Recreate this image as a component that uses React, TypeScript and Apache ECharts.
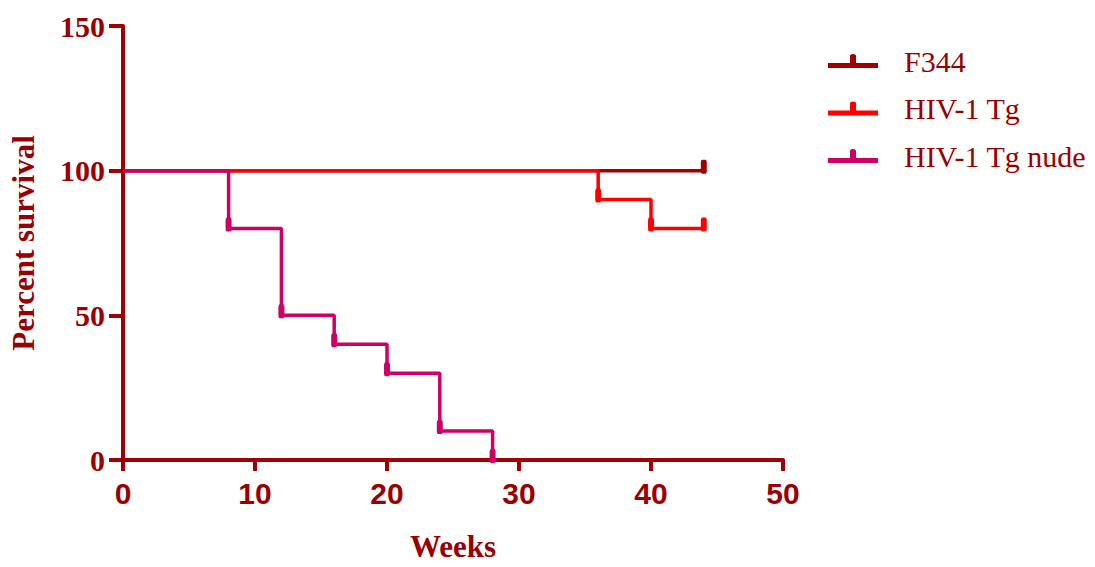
import React, { useEffect, useRef } from "react";
import * as echarts from "echarts";

const seriesNames = ["F344", "HIV-1 Tg", "HIV-1 Tg nude"];
const f344Weeks = [0, 44];
const f344Survival = [100, 100];
const tgWeeks = [0, 36, 40, 44];
const tgSurvival = [100, 90, 80, 80];
const nudeWeeks = [0, 8, 12, 16, 20, 24, 28];
const nudeSurvival = [100, 80, 50, 40, 30, 10, 0];
const seriesColors = ["#A00000", "#FF0000", "#CC0066"];

const axisColor = "#A00000";
const textColor = "#9A0000";

const legendIcon =
  "path://M0,9 L50,9 L50,14 L0,14 Z M22,2 Q22,0 25,0 Q28,0 28,2 L28,14 L22,14 Z";

function buildData(weeks: number[], vals: number[]) {
  return weeks.map((w, i) =>
    i === 0 ? { value: [w, vals[i]], symbol: "none" } : { value: [w, vals[i]] }
  );
}

export default function App() {
  const ref = useRef<HTMLDivElement>(null);
  useEffect(() => {
    if (!ref.current) return;
    const chart = echarts.init(ref.current, undefined, { renderer: "svg" });
    const all = [
      [f344Weeks, f344Survival],
      [tgWeeks, tgSurvival],
      [nudeWeeks, nudeSurvival],
    ];
    chart.setOption({
      animation: false,
      grid: { left: 118, right: 312, top: 26, bottom: 100, containLabel: false },
      legend: {
        left: 823,
        top: 40,
        orient: "vertical",
        itemWidth: 50,
        itemHeight: 24,
        itemGap: 15.5,
        data: seriesNames.map((n) => ({ name: n, icon: legendIcon })),
        textStyle: {
          color: textColor,
          fontFamily: "'Liberation Serif', 'Times New Roman', serif",
          fontSize: 30,
          lineHeight: 32,
          padding: [0, 0, 0, 21],
        },
      },
      xAxis: {
        type: "value",
        min: 0,
        max: 50,
        interval: 10,
        name: "Weeks",
        nameLocation: "middle",
        nameGap: 71,
        nameTextStyle: {
          color: textColor,
          fontFamily: "'Liberation Serif', 'Times New Roman', serif",
          fontWeight: "bold",
          fontSize: 31,
        },
        axisLine: { lineStyle: { color: axisColor, width: 4 } },
        axisTick: { length: 11, lineStyle: { color: axisColor, width: 4 } },
        axisLabel: {
          color: textColor,
          fontFamily: "'Liberation Sans', Arial, sans-serif",
          fontWeight: "bold",
          fontSize: 30,
          margin: 18,
        },
        splitLine: { show: false },
      },
      yAxis: {
        type: "value",
        min: 0,
        max: 150,
        interval: 50,
        name: "Percent survival",
        nameLocation: "middle",
        nameGap: 84,
        nameTextStyle: {
          color: textColor,
          fontFamily: "'Liberation Serif', 'Times New Roman', serif",
          fontWeight: "bold",
          fontSize: 31,
        },
        axisLine: { show: true, lineStyle: { color: axisColor, width: 4 } },
        axisTick: { show: true, length: 14, lineStyle: { color: axisColor, width: 4 } },
        axisLabel: {
          color: textColor,
          fontFamily: "'Liberation Serif', 'Times New Roman', serif",
          fontWeight: "bold",
          fontSize: 30,
          margin: 18,
        },
        splitLine: { show: false },
      },
      series: all.map(([w, v], i) => ({
        name: seriesNames[i],
        type: "line",
        step: "end",
        data: buildData(w as number[], v as number[]),
        symbol: "roundRect",
        symbolSize: [6, 14],
        symbolOffset: [0, -4],
        showAllSymbol: true,
        color: seriesColors[i],
        itemStyle: { color: seriesColors[i] },
        lineStyle: { color: seriesColors[i], width: 3.5 },
        z: 2 + i,
      })),
    });
    return () => chart.dispose();
  }, []);
  return (
    <div
      ref={ref}
      style={{ position: "fixed", left: 0, top: 0, width: 1095, height: 567, background: "#fff" }}
    />
  );
}
